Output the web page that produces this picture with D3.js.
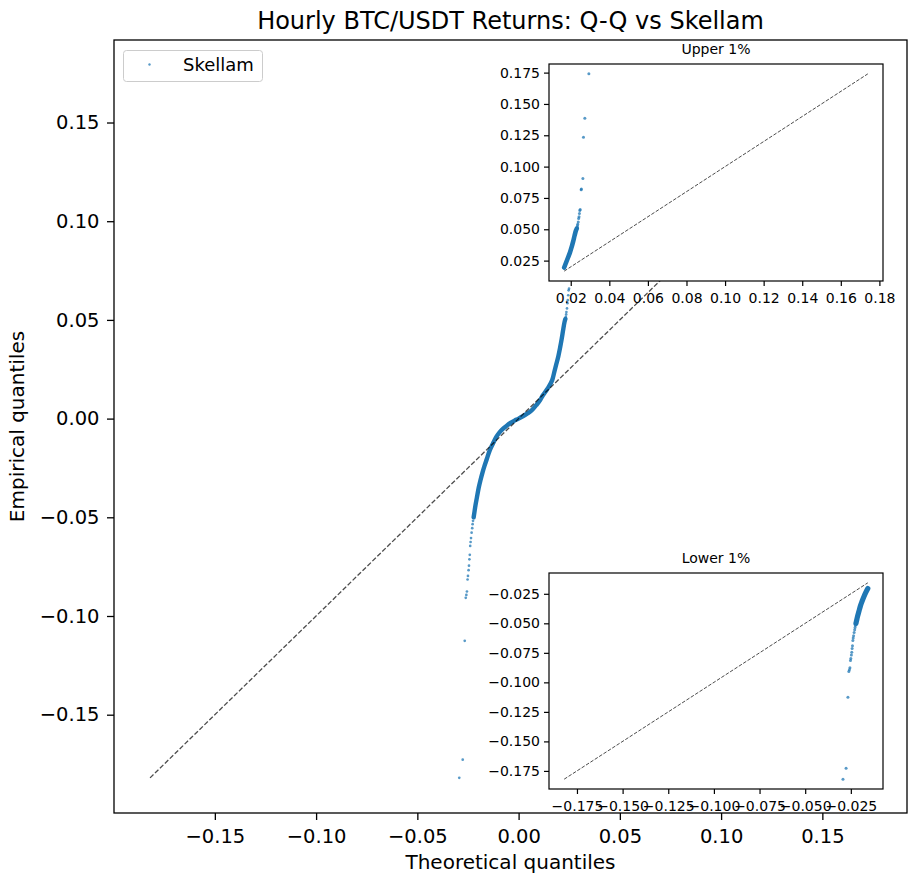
<!DOCTYPE html>
<html>
<head>
<meta charset="utf-8">
<script src="https://cdn.jsdelivr.net/npm/d3@7"></script>
<style>
  body { margin: 0; background: #fff; }
  text { font-family: "DejaVu Sans", sans-serif; fill: #000; }
</style>
</head>
<body>
<div id="chart"></div>
<script>
// Dense body of the Q-Q cloud (theoretical vs empirical)
const coreTheo = [-0.0222, -0.0219, -0.0213, -0.0206, -0.0197, -0.0189, -0.0178, -0.0168, -0.0157, -0.0143,
                  -0.0127, -0.0110, -0.0094, -0.0075, -0.0061, -0.0040, -0.0020, 0.0000, 0.0021, 0.0042,
                  0.0063, 0.0087, 0.0104, 0.0120, 0.0135, 0.0150, 0.0166, 0.0176, 0.0186, 0.0196,
                  0.0205, 0.0213, 0.0220, 0.0227, 0.0231];
const coreEmp  = [-0.0500, -0.0480, -0.0440, -0.0400, -0.0350, -0.0315, -0.0272, -0.0238, -0.0205, -0.0162,
                  -0.0127, -0.0093, -0.0070, -0.0050, -0.0038, -0.0022, -0.0010, 0.0000, 0.0012, 0.0025,
                  0.0040, 0.0068, 0.0090, 0.0118, 0.0140, 0.0163, 0.0195, 0.0235, 0.0275, 0.0315,
                  0.0360, 0.0405, 0.0450, 0.0490, 0.0505];

// Sparse tail points
const tailTheo = [-0.0293, -0.0276, -0.0266, -0.0261, -0.0258, -0.0255, -0.0252, -0.0250, -0.0247, -0.0245,
                  -0.0243, -0.0241, -0.0239, -0.0237, -0.0235, -0.0232, -0.0229, -0.0227, -0.0225,
                  0.0233, 0.0235, 0.0236, 0.0239, 0.0241, 0.0243, 0.0245, 0.0247, 0.0249, 0.0254, 0.0255,
                  0.0263, 0.0266, 0.0273, 0.0294];
const tailEmp  = [-0.1820, -0.1728, -0.1126, -0.0908, -0.0893, -0.0876, -0.0815, -0.0797, -0.0768, -0.0745,
                  -0.0713, -0.0690, -0.0645, -0.0625, -0.0605, -0.0578, -0.0555, -0.0535, -0.0518,
                  0.0515, 0.0528, 0.0540, 0.0558, 0.0585, 0.0600, 0.0625, 0.0650, 0.0658, 0.0815, 0.0822,
                  0.0905, 0.1235, 0.1385, 0.1740];

// 1% cut-offs on the empirical side
const upperCut = 0.0190;
const lowerCut = -0.0200;

const mainTicks   = [-0.15, -0.10, -0.05, 0, 0.05, 0.10, 0.15];
const upperXTicks = [0.02, 0.04, 0.06, 0.08, 0.10, 0.12, 0.14, 0.16, 0.18];
const upperYTicks = [0.025, 0.050, 0.075, 0.100, 0.125, 0.150, 0.175];
const lowerTicks  = [-0.175, -0.150, -0.125, -0.100, -0.075, -0.050, -0.025];

const BLUE = "#1f77b4";

const svg = d3.select("#chart").append("svg")
    .attr("width", 916)
    .attr("height", 885);

const points = (theo, emp) => theo.map((t, i) => ({x: t, y: emp[i]}));
const core = points(coreTheo, coreEmp);
const tail = points(tailTheo, tailEmp);

function drawPanel(opts) {
    const {box, core, tail, xTicks, yTicks, xFmt, yFmt, font, tick, pad, band, r, dash, lw, frame} = opts;

    // same padded range on both axes, like the reference line
    const [lo, hi] = d3.extent(core.concat(tail).flatMap(d => [d.x, d.y]));
    const m = (hi - lo) * 0.05;
    const x = d3.scaleLinear().domain([lo - m, hi + m]).range([0, box.width]);
    const y = d3.scaleLinear().domain([lo - m, hi + m]).range([box.height, 0]);

    const g = svg.append("g").attr("transform", `translate(${box.left},${box.top})`);

    g.append("rect")
        .attr("width", box.width)
        .attr("height", box.height)
        .attr("fill", "#fff");

    // dense part: markers overlap into a solid band
    g.append("path")
        .datum(core)
        .attr("d", d3.line().x(d => x(d.x)).y(d => y(d.y)).curve(d3.curveCatmullRom))
        .attr("fill", "none")
        .attr("stroke", BLUE)
        .attr("stroke-width", band)
        .attr("stroke-linecap", "round")
        .attr("stroke-linejoin", "round");

    g.selectAll("circle.tail")
        .data(tail)
        .join("circle")
        .attr("class", "tail")
        .attr("cx", d => x(d.x))
        .attr("cy", d => y(d.y))
        .attr("r", r)
        .attr("fill", BLUE)
        .attr("fill-opacity", 0.75);

    // 45 degree reference
    g.append("path")
        .datum([lo, hi])
        .attr("d", d3.line().x(d => x(d)).y(d => y(d)))
        .attr("stroke", "#000")
        .attr("stroke-opacity", 0.7)
        .attr("stroke-width", lw)
        .attr("stroke-dasharray", dash);

    const styleAxis = a => a
        .call(a => a.select(".domain").remove())
        .call(a => a.attr("font-size", font).attr("font-family", "DejaVu Sans"))
        .call(a => a.selectAll("line").attr("stroke-width", frame));

    g.append("g")
        .attr("transform", `translate(0,${box.height})`)
        .call(d3.axisBottom(x).tickValues(xTicks).tickFormat(d3.format(xFmt))
            .tickSize(tick).tickPadding(pad.x).tickSizeOuter(0))
        .call(styleAxis);

    g.append("g")
        .call(d3.axisLeft(y).tickValues(yTicks).tickFormat(d3.format(yFmt))
            .tickSize(tick).tickPadding(pad.y).tickSizeOuter(0))
        .call(styleAxis);

    g.append("rect")
        .attr("width", box.width)
        .attr("height", box.height)
        .attr("fill", "none")
        .attr("stroke", "#000")
        .attr("stroke-width", frame);

    if (opts.title) {
        g.append("text")
            .attr("x", box.width / 2)
            .attr("y", -10.5)
            .attr("text-anchor", "middle")
            .attr("font-size", font)
            .text(opts.title);
    }
    return g;
}

// Main Q-Q panel
drawPanel({
    box: {left: 114, top: 40, width: 793, height: 773},
    core, tail,
    xTicks: mainTicks, yTicks: mainTicks, xFmt: ".2f", yFmt: ".2f",
    font: 19.5, tick: 7, pad: {x: 9, y: 7.5},
    band: 4.4, r: 1.35, dash: "4.8,2.1", lw: 1.3, frame: 1.3
});

// Upper 1% inset
drawPanel({
    box: {left: 549, top: 64, width: 334, height: 217},
    core: core.filter(d => d.y >= upperCut),
    tail: tail.filter(d => d.y >= upperCut),
    xTicks: upperXTicks, yTicks: upperYTicks, xFmt: ".2f", yFmt: ".3f",
    font: 14, tick: 5, pad: {x: 7.5, y: 4},
    band: 4.6, r: 1.5, dash: "3.6,1.6", lw: 1.0, frame: 1.2,
    title: "Upper 1%"
});

// Lower 1% inset
drawPanel({
    box: {left: 549, top: 573, width: 334, height: 216},
    core: core.filter(d => d.y <= lowerCut),
    tail: tail.filter(d => d.y <= lowerCut),
    xTicks: lowerTicks, yTicks: lowerTicks, xFmt: ".3f", yFmt: ".3f",
    font: 14, tick: 5, pad: {x: 7.5, y: 4},
    band: 5.2, r: 1.5, dash: "3.6,1.6", lw: 1.0, frame: 1.2,
    title: "Lower 1%"
});

// Titles and labels
svg.append("text")
    .attr("x", 510.5).attr("y", 28.5)
    .attr("text-anchor", "middle")
    .attr("font-size", 24)
    .text("Hourly BTC/USDT Returns: Q-Q vs Skellam");

svg.append("text")
    .attr("x", 510.5).attr("y", 869)
    .attr("text-anchor", "middle")
    .attr("font-size", 20)
    .text("Theoretical quantiles");

svg.append("text")
    .attr("transform", "translate(24,426.5) rotate(-90)")
    .attr("text-anchor", "middle")
    .attr("font-size", 20)
    .text("Empirical quantiles");

// Legend
const legend = svg.append("g").attr("transform", "translate(123.5,50.5)");
legend.append("rect")
    .attr("width", 139).attr("height", 31).attr("rx", 3)
    .attr("fill", "#fff").attr("fill-opacity", 0.8)
    .attr("stroke", "#ccc").attr("stroke-width", 1);
legend.append("circle")
    .attr("cx", 26).attr("cy", 14)
    .attr("r", 1.2)
    .attr("fill", BLUE).attr("fill-opacity", 0.75);
legend.append("text")
    .attr("x", 59.5).attr("y", 20.5)
    .attr("font-size", 18)
    .text("Skellam");
</script>
</body>
</html>
